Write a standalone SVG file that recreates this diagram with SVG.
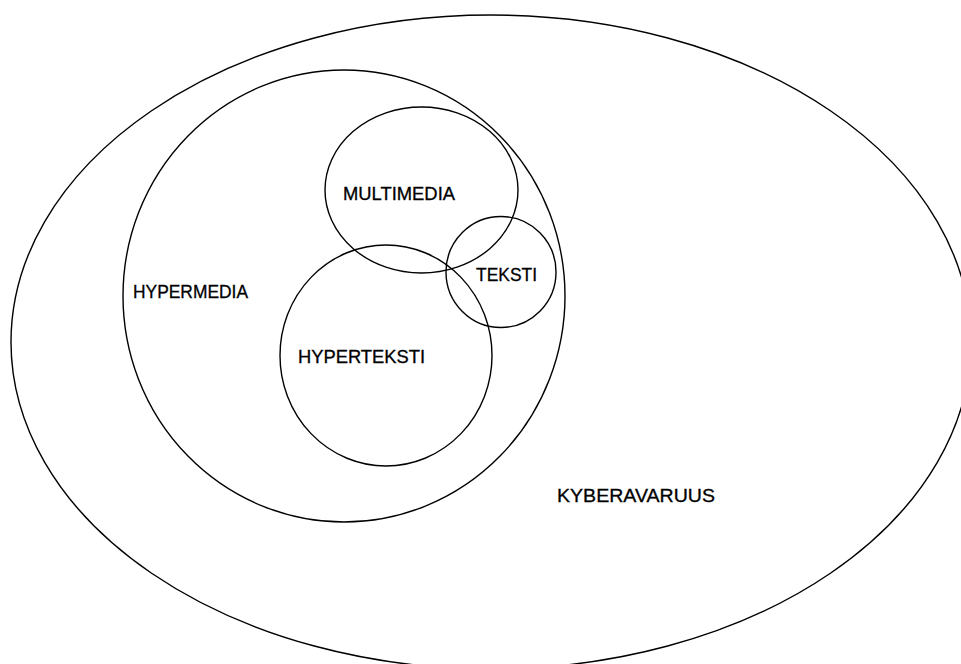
<svg xmlns="http://www.w3.org/2000/svg" width="961" height="664" viewBox="0 0 961 664">
<style>
.s{fill:none;stroke:#000;stroke-width:1.4}
.t{font-family:"Liberation Sans",Arial,sans-serif;font-size:18px;fill:#000;stroke:#000;stroke-width:0.3}
</style>
<rect width="961" height="664" fill="#fff"/>
<g id="kyberavaruus">
<ellipse class="s" cx="491" cy="342" rx="480" ry="327"/>
<text class="t" x="557" y="502" textLength="158" lengthAdjust="spacingAndGlyphs">KYBERAVARUUS</text>
</g>
<g id="hypermedia">
<ellipse class="s" cx="344" cy="296" rx="221" ry="226"/>
<text class="t" x="133" y="298" textLength="115" lengthAdjust="spacingAndGlyphs">HYPERMEDIA</text>
</g>
<g id="multimedia">
<ellipse class="s" cx="421.5" cy="190" rx="96.5" ry="83"/>
<text class="t" x="343" y="200" textLength="112" lengthAdjust="spacingAndGlyphs">MULTIMEDIA</text>
</g>
<g id="hyperteksti">
<ellipse class="s" cx="386" cy="355.5" rx="106" ry="110.5"/>
<text class="t" x="298" y="363" textLength="127" lengthAdjust="spacingAndGlyphs">HYPERTEKSTI</text>
</g>
<g id="teksti">
<ellipse class="s" cx="501" cy="272" rx="55" ry="55.5"/>
<text class="t" x="476" y="281" textLength="61" lengthAdjust="spacingAndGlyphs">TEKSTI</text>
</g>
<g id="connectors"></g>
</svg>
